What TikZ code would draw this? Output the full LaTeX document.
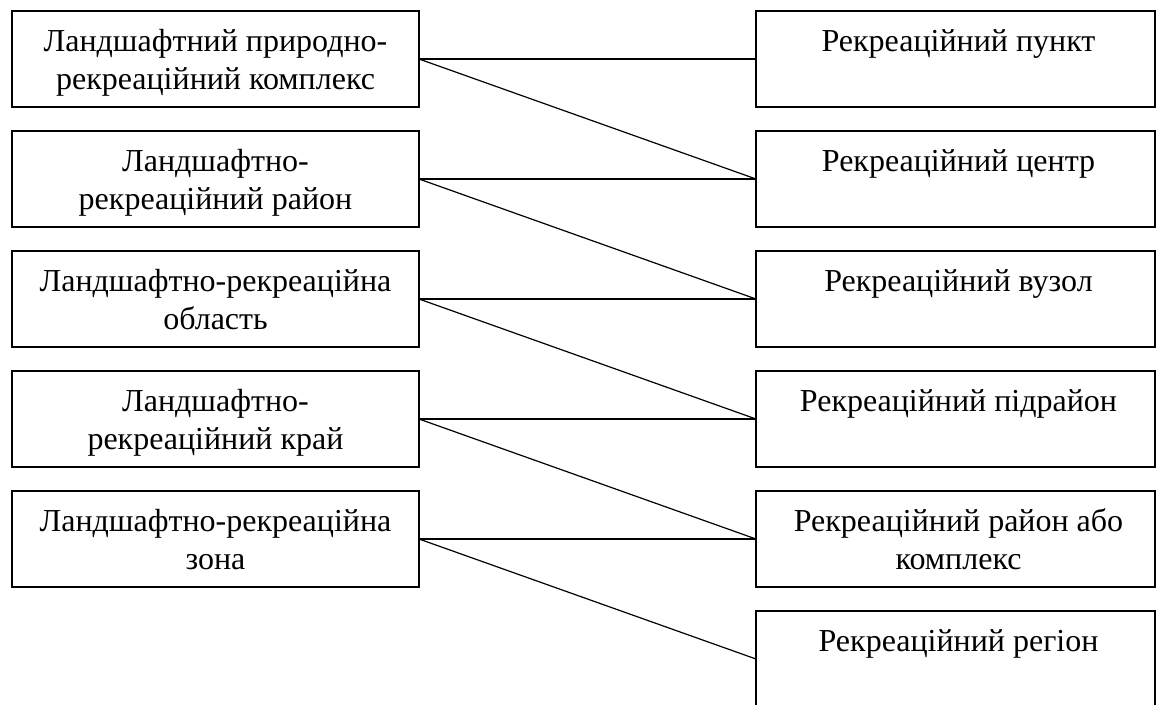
\documentclass[tikz,border=0pt]{standalone}
\usepackage{fontspec}
\setmainfont{Liberation Serif}
\begin{document}
\begin{tikzpicture}[x=1pt,y=-1pt,
  lbox/.style={draw, line width=1.6pt, minimum width=407pt, minimum height=96pt, inner sep=0pt, outer sep=0pt},
  rbox/.style={draw, line width=1.6pt, minimum width=399pt, minimum height=96pt, inner sep=0pt, outer sep=0pt},
  txt/.style={align=center, inner sep=0pt, font=\fontsize{32}{38}\selectfont, anchor=base},
  conn/.style={line width=1.2pt}]
\useasboundingbox (0,0) rectangle (1156,704);
% left boxes
\node[lbox] (l1) at (215.5,59) {};
\node[lbox] (l2) at (215.5,179) {};
\node[lbox] (l3) at (215.5,299) {};
\node[lbox] (l4) at (215.5,419) {};
\node[lbox] (l5) at (215.5,539) {};
% right boxes
\node[rbox] (r1) at (955.5,59) {};
\node[rbox] (r2) at (955.5,179) {};
\node[rbox] (r3) at (955.5,299) {};
\node[rbox] (r4) at (955.5,419) {};
\node[rbox] (r5) at (955.5,539) {};
\node[rbox] (r6) at (955.5,659) {};
% left texts (base anchor = last line)
\node[txt] (tl1) at ([yshift=-78pt]l1.north) {Ландшафтний природно-\\рекреаційний комплекс};
\node[txt] (tl2) at ([yshift=-78pt]l2.north) {Ландшафтно-\\рекреаційний район};
\node[txt] (tl3) at ([yshift=-78pt]l3.north) {Ландшафтно-рекреаційна\\область};
\node[txt] (tl4) at ([yshift=-78pt]l4.north) {Ландшафтно-\\рекреаційний край};
\node[txt] (tl5) at ([yshift=-78pt]l5.north) {Ландшафтно-рекреаційна\\зона};
% right texts
\node[txt] (tr1) at ([xshift=3pt,yshift=-40pt]r1.north) {Рекреаційний пункт};
\node[txt] (tr2) at ([xshift=3pt,yshift=-40pt]r2.north) {Рекреаційний центр};
\node[txt] (tr3) at ([xshift=3pt,yshift=-40pt]r3.north) {Рекреаційний вузол};
\node[txt] (tr4) at ([xshift=3pt,yshift=-40pt]r4.north) {Рекреаційний підрайон};
\node[txt] (tr5) at ([xshift=3pt,yshift=-78pt]r5.north) {Рекреаційний район або\\комплекс};
\node[txt] (tr6) at ([xshift=3pt,yshift=-40pt]r6.north) {Рекреаційний регіон};
% connectors
\draw[conn] (l1.east) -- (r1.west);
\draw[conn] (l1.east) -- (r2.west);
\draw[conn] (l2.east) -- (r2.west);
\draw[conn] (l2.east) -- (r3.west);
\draw[conn] (l3.east) -- (r3.west);
\draw[conn] (l3.east) -- (r4.west);
\draw[conn] (l4.east) -- (r4.west);
\draw[conn] (l4.east) -- (r5.west);
\draw[conn] (l5.east) -- (r5.west);
\draw[conn] (l5.east) -- (r6.west);
\end{tikzpicture}
\end{document}
